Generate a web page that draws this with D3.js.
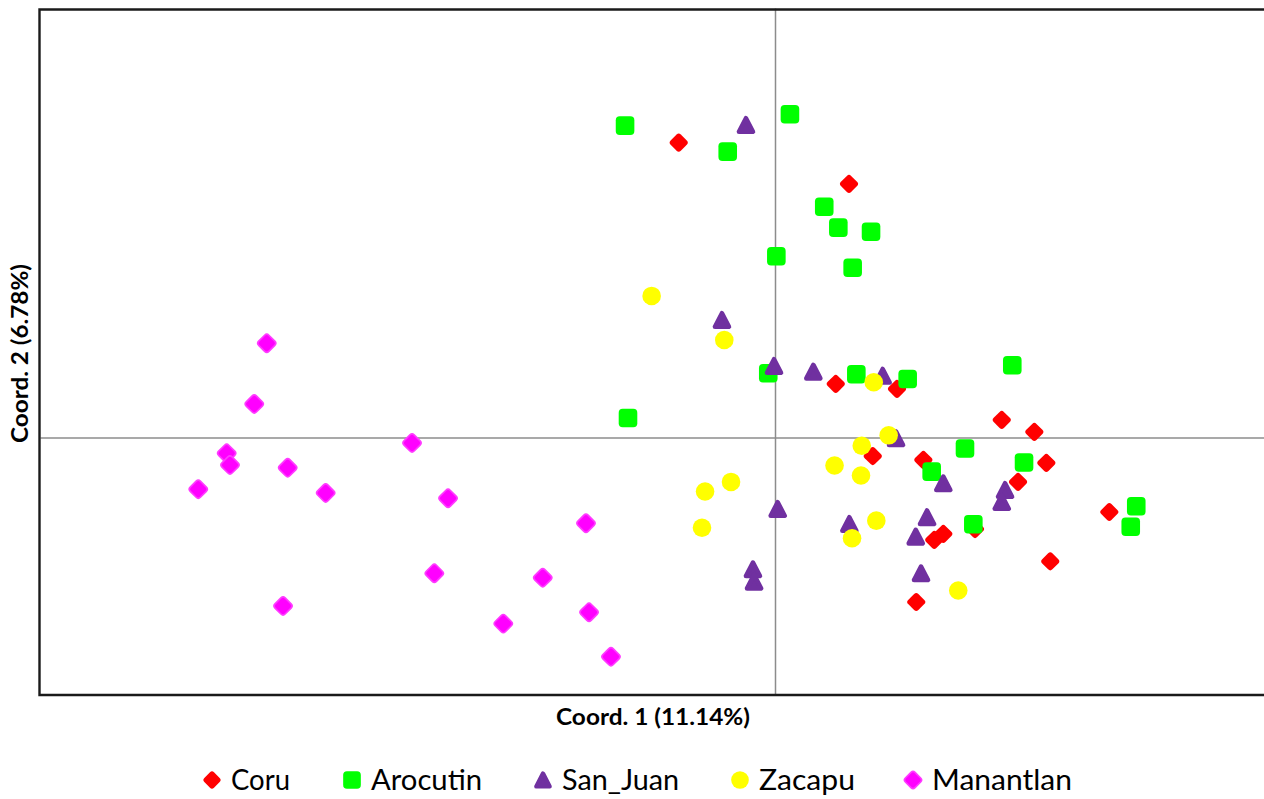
<!DOCTYPE html>
<html>
<head>
<meta charset="utf-8">
<script src="https://cdn.jsdelivr.net/npm/d3@7/dist/d3.min.js"></script>
<style>
  html, body { margin: 0; padding: 0; background: #fff; }
  svg { display: block; }
</style>
</head>
<body>
<svg id="chart" width="1264" height="799"></svg>
<script>
// PCoA scores (Coord. 1, Coord. 2) for each population
const coru = [
  [-0.0786, 0.3432], [0.0604, 0.2951], [0.0496, 0.0622], [0.0996, 0.0564],
  [0.1851, 0.0203], [0.2117, 0.0063], [0.0798, -0.0217], [0.1211, -0.0263],
  [0.2215, -0.0298], [0.1984, -0.0519], [0.1300, -0.1195], [0.1374, -0.1125],
  [0.1633, -0.1067], [0.1153, -0.1917], [0.2247, -0.1443], [0.2729, -0.0869]
];
const arocutin = [
  [-0.1224, 0.3630], [-0.0386, 0.3327], [0.0122, 0.3762], [0.0402, 0.2686],
  [0.0517, 0.2442], [0.0784, 0.2395], [0.0011, 0.2109], [0.0634, 0.1976],
  [-0.1200, 0.0226], [-0.0055, 0.0746], [0.0664, 0.0735], [0.1083, 0.0680],
  [0.1937, 0.0840], [0.1551, -0.0129], [0.1279, -0.0399], [0.2033, -0.0292],
  [0.1619, -0.1011], [0.2949, -0.0802], [0.2904, -0.1040]
];
const sanJuan = [
  [-0.0237, 0.3638], [-0.0433, 0.1367], [-0.0008, 0.0831], [0.0313, 0.0765],
  [0.0879, 0.0718], [0.0988, -0.0010], [0.1374, -0.0535], [0.1878, -0.0613],
  [0.1851, -0.0752], [0.0022, -0.0834], [0.0607, -0.1008], [0.1241, -0.0930],
  [0.1149, -0.1156], [0.1192, -0.1583], [-0.0180, -0.1536], [-0.0171, -0.1680]
];
const zacapu = [
  [-0.1007, 0.1647], [-0.0414, 0.1134], [0.0806, 0.0642], [0.0928, 0.0024],
  [0.0708, -0.0097], [0.0486, -0.0327], [0.0702, -0.0444], [-0.0359, -0.0519],
  [-0.0571, -0.0630], [-0.0596, -0.1052], [0.0827, -0.0970], [0.0629, -0.1175],
  [0.1496, -0.1783]
];
const manantlan = [
  [-0.4149, 0.1096], [-0.4251, 0.0389], [-0.4476, -0.0185], [-0.4449, -0.0321],
  [-0.4708, -0.0604], [-0.3978, -0.0353], [-0.3668, -0.0647], [-0.2963, -0.0065],
  [-0.2669, -0.0709], [-0.1543, -0.1000], [-0.2781, -0.1583], [-0.1896, -0.1634],
  [-0.2218, -0.2169], [-0.1518, -0.2037], [-0.1339, -0.2554], [-0.4016, -0.1963]
];

const seriesNames = ["Coru", "Arocutin", "San_Juan", "Zacapu", "Manantlan"];
const seriesData = [coru, arocutin, sanJuan, zacapu, manantlan];
const seriesColors = ["#ff0000", "#00ff00", "#7030a0", "#ffff00", "#ff00ff"];
const seriesShapes = ["diamond", "square", "triangle", "circle", "diamond"];

const xTitle = "Coord. 1 (11.14%)";
const yTitle = "Coord. 2 (6.78%)";

const svg = d3.select("#chart");

const plot = { left: 40, top: 8, right: 1265, bottom: 695 };

const x = d3.scaleLinear().domain([-0.6, 0.4]).range([plot.left, plot.right]);
const y = d3.scaleLinear().domain([-0.3, 0.5]).range([plot.bottom, plot.top]);

// Zero reference lines (axes through the origin, no ticks)
const xAxis = d3.axisBottom(x).tickValues([]).tickSizeOuter(0);
const yAxis = d3.axisLeft(y).tickValues([]).tickSizeOuter(0);

svg.append("g")
  .attr("transform", `translate(0,${y(0)})`)
  .call(xAxis)
  .call(g => g.select(".domain").attr("stroke", "#8c8c8c").attr("stroke-width", 1.5));

svg.append("g")
  .attr("transform", `translate(${x(0)},0)`)
  .call(yAxis)
  .call(g => g.select(".domain").attr("stroke", "#8c8c8c").attr("stroke-width", 1.5));

// Plot frame (right side runs past the page edge)
svg.append("path")
  .attr("d", `M${plot.right + 40},${plot.top + 1.5} H${plot.left - 0.5} V${plot.bottom} H${plot.right + 40}`)
  .attr("fill", "none")
  .attr("stroke", "#1a1a1a")
  .attr("stroke-width", 2.4);

// Marker drawing
function drawMarker(sel, shape, color, s) {
  if (shape === "square") {
    sel.append("rect")
      .attr("x", -9.3 * s).attr("y", -9.3 * s)
      .attr("width", 18.6 * s).attr("height", 18.6 * s)
      .attr("rx", 4 * s)
      .attr("fill", color);
  } else if (shape === "diamond") {
    const side = 14.4 * s;
    sel.append("rect")
      .attr("x", -side / 2).attr("y", -side / 2)
      .attr("width", side).attr("height", side)
      .attr("rx", 3 * s)
      .attr("transform", "rotate(45)")
      .attr("fill", color)
      .attr("stroke", color === "#ff00ff" ? "#ff3cff" : "none")
      .attr("stroke-width", color === "#ff00ff" ? 1.6 : 0);
  } else if (shape === "circle") {
    sel.append("circle").attr("r", 9.3 * s).attr("fill", color);
  } else if (shape === "triangle") {
    const w = 14 * s, h = 13.5 * s;
    sel.append("path")
      .attr("d", `M0,${-h / 2} L${w / 2},${h / 2} L${-w / 2},${h / 2} Z`)
      .attr("fill", color)
      .attr("stroke", color)
      .attr("stroke-width", 4.6 * s)
      .attr("stroke-linejoin", "round");
  }
}

// Points, one group per population
seriesData.forEach((pts, i) => {
  const g = svg.append("g").attr("class", "series " + seriesNames[i]);
  g.selectAll("g.pt")
    .data(pts)
    .join("g")
    .attr("class", "pt")
    .attr("transform", d => `translate(${x(d[0])},${y(d[1])})`)
    .each(function () { drawMarker(d3.select(this), seriesShapes[i], seriesColors[i], 1); });
});

// Axis titles
svg.append("text")
  .attr("x", 556)
  .attr("y", 725)
  .attr("font-family", "Lato, 'Open Sans', sans-serif")
  .attr("font-weight", "bold")
  .attr("font-size", 22)
  .attr("textLength", 194)
  .attr("lengthAdjust", "spacingAndGlyphs")
  .attr("fill", "#000")
  .text(xTitle);

svg.append("text")
  .attr("transform", `translate(28,443) rotate(-90)`)
  .attr("font-family", "Lato, 'Open Sans', sans-serif")
  .attr("font-weight", "bold")
  .attr("font-size", 22)
  .attr("textLength", 179)
  .attr("lengthAdjust", "spacingAndGlyphs")
  .attr("fill", "#000")
  .text(yTitle);

// Legend
const legendX = [212, 352, 543, 740, 913];
const legendTextWidth = [59, 111, 117, 96, 140];
const legend = svg.append("g").attr("class", "legend");
seriesNames.forEach((name, i) => {
  const item = legend.append("g").attr("transform", `translate(${legendX[i]},780)`);
  drawMarker(item.append("g"), seriesShapes[i], seriesColors[i], 0.95);
  item.append("text")
    .attr("x", 19)
    .attr("y", 10)
    .attr("font-family", "Lato, 'Open Sans', sans-serif")
    .attr("font-size", 28)
    .attr("textLength", legendTextWidth[i])
    .attr("lengthAdjust", "spacingAndGlyphs")
    .attr("fill", "#000")
    .text(name);
});
</script>
</body>
</html>
